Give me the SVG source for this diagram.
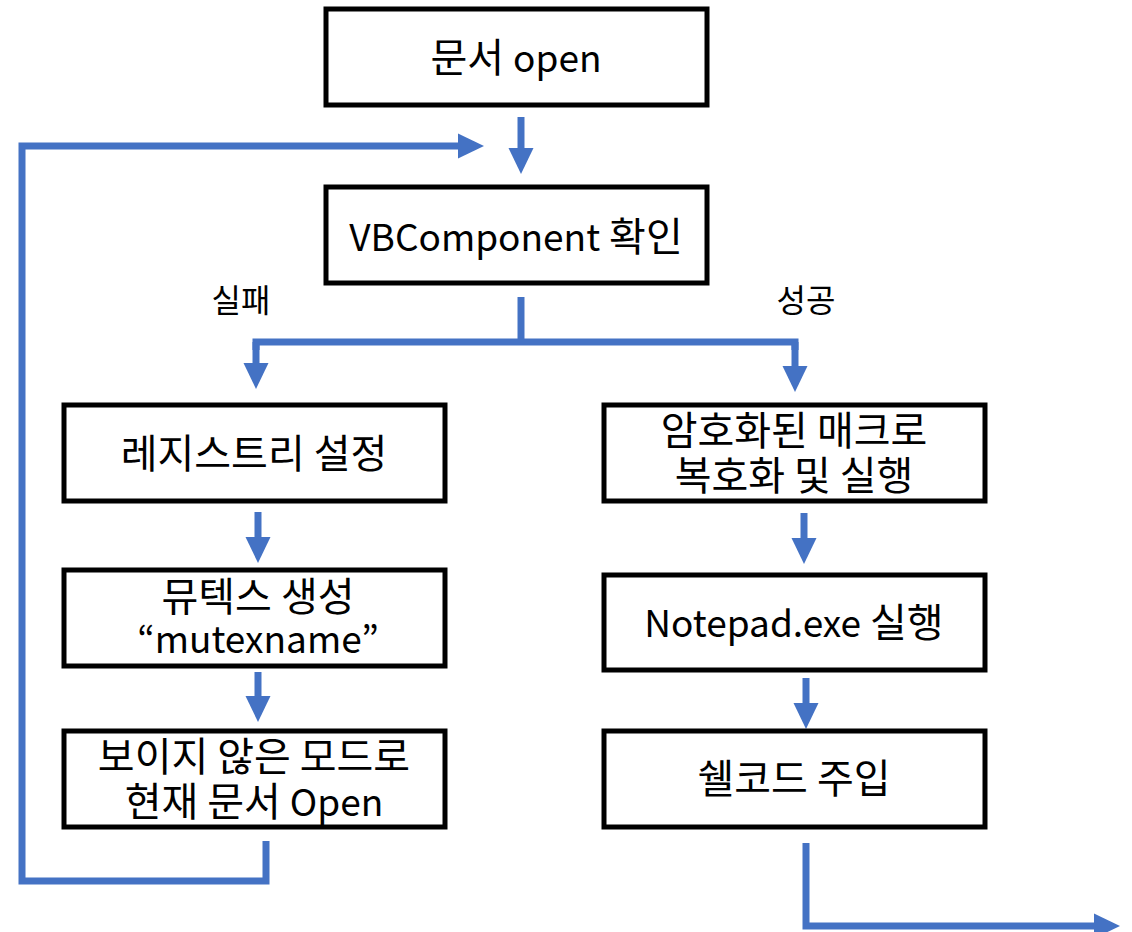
<svg xmlns="http://www.w3.org/2000/svg" width="1132" height="932" viewBox="0 0 1132 932">
<style>
.box{fill:#fff;stroke:#000;stroke-width:5}
.t{font-family:"Noto Sans CJK KR","Noto Sans",sans-serif;font-size:40px;fill:#000;text-anchor:middle}
.l{font-size:37px}
.lbl{font-family:"Noto Sans CJK KR","Noto Sans",sans-serif;font-size:32px;fill:#000;text-anchor:middle}
.c{fill:none;stroke:#4472C4;stroke-width:7;stroke-linejoin:miter}
</style>
<defs>
<marker id="ah" markerUnits="userSpaceOnUse" markerWidth="26" markerHeight="26" refX="0" refY="12.5" orient="auto" viewBox="0 0 26 25">
<path d="M0,0 L26,12.5 L0,25 z" fill="#4472C4"/>
</marker>
</defs>
<rect width="1132" height="932" fill="#fff"/>
<g id="connectors">
<path class="c" d="M521,117 V148" marker-end="url(#ah)"/>
<path class="c" d="M266,841 V881 H22 V146 H458" marker-end="url(#ah)"/>
<path class="c" d="M521,297 V342"/>
<path class="c" d="M256,350 V342 H795 V350"/>
<path class="c" d="M256,342 V363" marker-end="url(#ah)"/>
<path class="c" d="M795,342 V366" marker-end="url(#ah)"/>
<path class="c" d="M258,512 V537" marker-end="url(#ah)"/>
<path class="c" d="M258,672 V696" marker-end="url(#ah)"/>
<path class="c" d="M804,513 V538" marker-end="url(#ah)"/>
<path class="c" d="M806,678 V703" marker-end="url(#ah)"/>
<path class="c" d="M806,843 V926 H1094" marker-end="url(#ah)"/>
</g>
<g id="label-fail"><text class="lbl" x="241" y="312">실패</text></g>
<g id="label-success"><text class="lbl" x="806" y="312">성공</text></g>
<g id="n-open">
<rect class="box" x="326" y="9" width="381" height="96"/>
<text class="t" x="516" y="72">문서 <tspan class="l">open</tspan></text>
</g>
<g id="n-vbc">
<rect class="box" x="326" y="187" width="381" height="96"/>
<text class="t" x="516" y="251"><tspan class="l">VBComponent</tspan> 확인</text>
</g>
<g id="n-reg">
<rect class="box" x="64" y="405" width="381" height="96"/>
<text class="t" x="254" y="468">레지스트리 설정</text>
</g>
<g id="n-mutex">
<rect class="box" x="64" y="570" width="381" height="96"/>
<text class="t" x="258" y="611">뮤텍스 생성</text>
<text class="t" x="258" y="653"><tspan class="l">“mutexname”</tspan></text>
</g>
<g id="n-hidden">
<rect class="box" x="64" y="731" width="381" height="96"/>
<text class="t" x="254" y="771">보이지 않은 모드로</text>
<text class="t" x="254" y="816">현재 문서 <tspan class="l">Open</tspan></text>
</g>
<g id="n-decrypt">
<rect class="box" x="604" y="405" width="381" height="96"/>
<text class="t" x="794" y="445">암호화된 매크로</text>
<text class="t" x="794" y="490">복호화 및 실행</text>
</g>
<g id="n-notepad">
<rect class="box" x="604" y="575" width="381" height="95"/>
<text class="t" x="794" y="637"><tspan class="l">Notepad.exe</tspan> 실행</text>
</g>
<g id="n-shell">
<rect class="box" x="604" y="731" width="381" height="96"/>
<text class="t" x="794" y="793">쉘코드 주입</text>
</g>
</svg>
